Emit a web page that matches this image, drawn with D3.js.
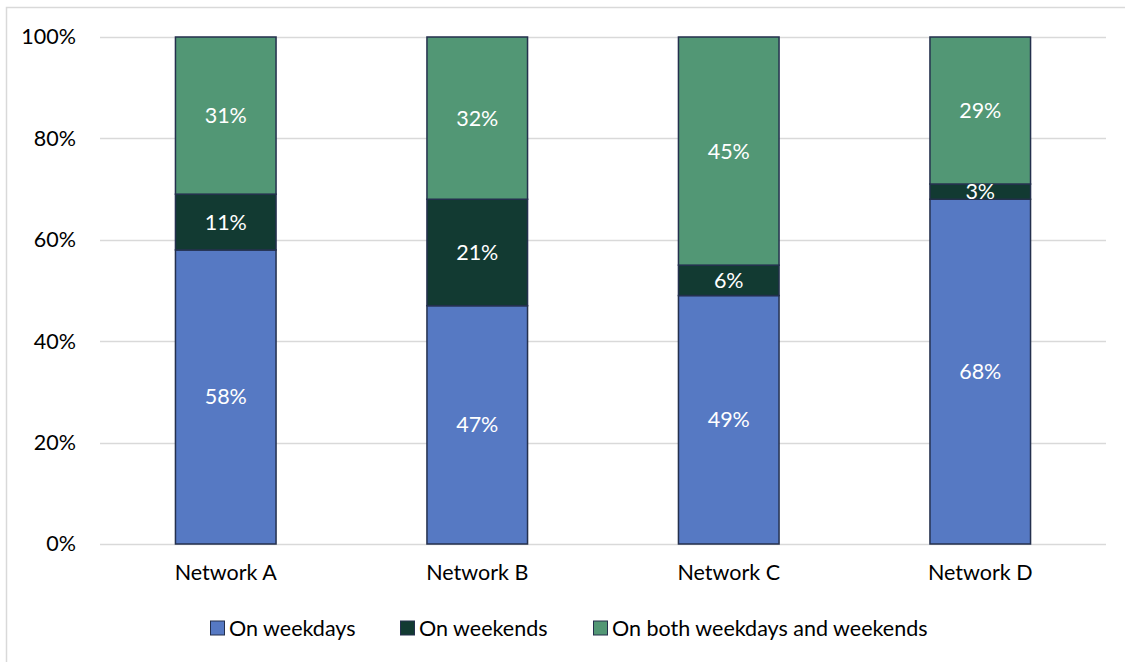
<!DOCTYPE html>
<html>
<head>
<meta charset="utf-8">
<script src="https://cdn.jsdelivr.net/npm/d3@7/dist/d3.min.js"></script>
<style>
  html, body { margin: 0; padding: 0; background: #fff; }
  svg { display: block; font-family: Lato, "Open Sans", "Noto Sans", sans-serif; }
</style>
</head>
<body>
<svg id="chart" width="1125" height="662"></svg>
<script>
// Share of usage per network, by time of week (percent)
const networks = ["Network A", "Network B", "Network C", "Network D"];
const seriesNames = ["On weekdays", "On weekends", "On both weekdays and weekends"];
const weekdays = [58, 47, 49, 68];
const weekends = [11, 21, 6, 3];
const both = [31, 32, 45, 29];
const yTicks = [0, 20, 40, 60, 80, 100];
const colors = ["#5679C3", "#123A32", "#529775"];

(function () {
  const svg = d3.select("#chart");
  const W = 1125, H = 662;
  const fontSize = 21.5;

  // outer frame
  svg.append("rect")
    .attr("x", 6.5).attr("y", 7.5)
    .attr("width", W).attr("height", H)
    .attr("fill", "none").attr("stroke", "#d9d9d9").attr("stroke-width", 1.5);

  const plotLeft = 100, plotRight = 1106, plotTop = 37, plotBottom = 544;

  const x = d3.scaleBand().domain(networks).range([plotLeft, plotRight]).paddingInner(0.6).paddingOuter(0.3);
  const y = d3.scaleLinear().domain([0, 100]).range([plotBottom, plotTop]);

  // gridlines
  svg.append("g")
    .selectAll("line").data(yTicks).join("line")
    .attr("x1", plotLeft).attr("x2", plotRight)
    .attr("y1", d => Math.round(y(d)) + 0.5).attr("y2", d => Math.round(y(d)) + 0.5)
    .attr("stroke", "#d9d9d9").attr("stroke-width", 1.5);

  // y axis labels
  const yAxis = d3.axisLeft(y).tickValues(yTicks).tickFormat(d => d + "%").tickSize(0).tickPadding(0);
  const gy = svg.append("g").attr("transform", `translate(${plotLeft - 24},0)`).call(yAxis);
  gy.select(".domain").remove();
  gy.selectAll("text").attr("font-size", fontSize).attr("fill", "#000").attr("font-family", "Lato, 'Open Sans', sans-serif");

  // x axis labels
  const xAxis = d3.axisBottom(x).tickSize(0).tickPadding(0);
  const gx = svg.append("g").attr("transform", `translate(0,${plotBottom + 21})`).call(xAxis);
  gx.select(".domain").remove();
  gx.selectAll("text").attr("font-size", fontSize).attr("fill", "#000").attr("font-family", "Lato, 'Open Sans', sans-serif");

  // stacked data
  const rows = networks.map((n, i) => ({ name: n, s0: weekdays[i], s1: weekends[i], s2: both[i] }));
  const layers = d3.stack().keys(["s0", "s1", "s2"])(rows);

  const gBars = svg.append("g");
  layers.forEach((layer, li) => {
    gBars.selectAll(null).data(layer).join("rect")
      .attr("x", d => x(d.data.name))
      .attr("width", x.bandwidth())
      .attr("y", d => y(d[1]))
      .attr("height", d => y(d[0]) - y(d[1]))
      .attr("fill", colors[li])
      .attr("stroke", "#24304d").attr("stroke-width", 1.5);
  });

  // value labels
  layers.forEach((layer) => {
    gBars.selectAll(null).data(layer).join("text")
      .attr("x", d => x(d.data.name) + x.bandwidth() / 2)
      .attr("y", d => (y(d[0]) + y(d[1])) / 2)
      .attr("dy", "0.35em")
      .attr("text-anchor", "middle")
      .attr("font-size", fontSize)
      .attr("fill", "#fff")
      .text(d => (d[1] - d[0]) + "%");
  });

  // legend
  const legendX = [210, 400, 593];
  const legend = svg.append("g");
  seriesNames.forEach((name, i) => {
    const g = legend.append("g").attr("transform", `translate(${legendX[i]},628)`);
    g.append("rect").attr("x", 0.5).attr("y", -7).attr("width", 14).attr("height", 14)
      .attr("fill", colors[i]).attr("stroke", "#24304d").attr("stroke-width", 1);
    g.append("text").attr("x", 19).attr("y", 0).attr("dy", "0.35em")
      .attr("font-size", fontSize).attr("fill", "#000").text(name);
  });
})();
</script>
</body>
</html>
